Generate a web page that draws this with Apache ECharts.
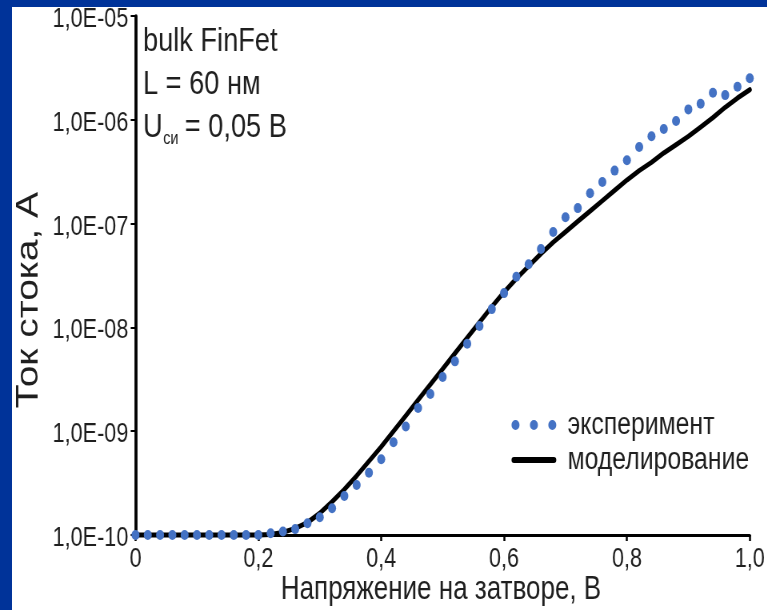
<!DOCTYPE html>
<html>
<head>
<meta charset="utf-8">
<script src="https://cdn.jsdelivr.net/npm/echarts@6/dist/echarts.min.js"></script>
<style>
  html, body { margin: 0; padding: 0; background: #ffffff; overflow: hidden; }
  /* the figure is laid out wide and then condensed horizontally */
  #chart { width: 959px; height: 610px; transform: scaleX(0.8); transform-origin: 0 0; }
</style>
</head>
<body>
<div id="chart"></div>
<script>
// Gate voltage, V (step 0.02 V)
const gateVoltage = [
  0.00, 0.02, 0.04, 0.06, 0.08, 0.10, 0.12, 0.14, 0.16, 0.18,
  0.20, 0.22, 0.24, 0.26, 0.28, 0.30, 0.32, 0.34, 0.36, 0.38,
  0.40, 0.42, 0.44, 0.46, 0.48, 0.50, 0.52, 0.54, 0.56, 0.58,
  0.60, 0.62, 0.64, 0.66, 0.68, 0.70, 0.72, 0.74, 0.76, 0.78,
  0.80, 0.82, 0.84, 0.86, 0.88, 0.90, 0.92, 0.94, 0.96, 0.98,
  1.00
];

// Measured drain current, A
const experimentCurrent = [
  1.0e-10, 1.0e-10, 1.0e-10, 1.0e-10, 1.0e-10, 1.0e-10, 1.0e-10, 1.0e-10, 1.0e-10, 1.0e-10,
  1.0e-10, 1.04e-10, 1.08e-10, 1.14e-10, 1.30e-10, 1.48e-10, 1.81e-10, 2.38e-10, 3.03e-10, 3.98e-10,
  5.36e-10, 7.82e-10, 1.11e-9, 1.67e-9, 2.28e-9, 3.33e-9, 4.71e-9, 6.97e-9, 1.03e-8, 1.50e-8,
  2.14e-8, 3.08e-8, 4.06e-8, 5.69e-8, 8.30e-8, 1.15e-7, 1.41e-7, 1.96e-7, 2.52e-7, 3.24e-7,
  4.07e-7, 5.47e-7, 6.93e-7, 8.15e-7, 9.72e-7, 1.26e-6, 1.43e-6, 1.82e-6, 1.73e-6, 2.08e-6,
  2.51e-6
];

// Simulated drain current, A
const modelCurrent = [
  1.0e-10, 1.0e-10, 1.0e-10, 1.0e-10, 1.0e-10, 1.0e-10, 1.0e-10, 1.0e-10, 1.0e-10, 1.0e-10,
  1.0e-10, 1.01e-10, 1.06e-10, 1.16e-10, 1.32e-10, 1.62e-10, 2.09e-10, 2.75e-10, 3.72e-10, 5.13e-10,
  7.08e-10, 1.00e-9, 1.41e-9, 2.00e-9, 2.82e-9, 3.98e-9, 5.62e-9, 7.94e-9, 1.12e-8, 1.58e-8,
  2.19e-8, 2.95e-8, 3.89e-8, 5.13e-8, 6.61e-8, 8.32e-8, 1.05e-7, 1.32e-7, 1.66e-7, 2.09e-7,
  2.63e-7, 3.24e-7, 3.89e-7, 4.79e-7, 5.75e-7, 6.92e-7, 8.51e-7, 1.05e-6, 1.32e-6, 1.62e-6,
  1.95e-6
];

const xTickLabels = ['0', '0,2', '0,4', '0,6', '0,8', '1,0'];
const yTickLabels = ['1,0E-10', '1,0E-09', '1,0E-08', '1,0E-07', '1,0E-06', '1,0E-05'];

const seriesNames = ['эксперимент', 'моделирование'];

const FONT = "'Liberation Sans', Arial, sans-serif";
const TEXT = '#1f1f1f';
const BLUE_DOT = '#4472C4';
const FRAME = '#003399';

const chart = echarts.init(document.getElementById('chart'), null, { renderer: 'canvas' });

const pairs = (ys) => gateVoltage.map((v, i) => [v, ys[i]]);

// legend icons: three dots and a thick bar
const dotsIcon = 'path://M0,5a5,5 0 1,0 10,0a5,5 0 1,0 -10,0z' +
  'M23,5a5,5 0 1,0 10,0a5,5 0 1,0 -10,0z' +
  'M46,5a5,5 0 1,0 10,0a5,5 0 1,0 -10,0z';
const barIcon = 'path://M3,2h50a3,3 0 0,1 0,6h-50a3,3 0 0,1 0,-6z';

chart.setOption({
  backgroundColor: '#ffffff',
  animation: false,
  textStyle: { fontFamily: FONT },
  grid: { left: 169.4, top: 16, width: 768.8, height: 519 },
  graphic: [
    { type: 'rect', shape: { x: 0, y: 0, width: 959, height: 7 }, style: { fill: FRAME } },
    { type: 'rect', shape: { x: 0, y: 0, width: 15, height: 610 }, style: { fill: FRAME } },
    { type: 'text', x: 178.75, y: 42, style: { text: 'bulk FinFet', fontSize: 34, fontFamily: FONT, fill: TEXT, verticalAlign: 'middle' } },
    { type: 'text', x: 178.75, y: 85, style: { text: 'L = 60 нм', fontSize: 34, fontFamily: FONT, fill: TEXT, verticalAlign: 'middle' } },
    { type: 'text', x: 178.75, y: 128, style: { text: 'U', fontSize: 34, fontFamily: FONT, fill: TEXT, verticalAlign: 'middle' } },
    { type: 'text', x: 204, y: 139, style: { text: 'си', fontSize: 18, fontFamily: FONT, fill: TEXT, verticalAlign: 'middle' } },
    { type: 'text', x: 231, y: 128, style: { text: '= 0,05 В', fontSize: 34, fontFamily: FONT, fill: TEXT, verticalAlign: 'middle' } },
    { type: 'text', x: 551.25, y: 590, style: { text: 'Напряжение на затворе, В', fontSize: 32.5, fontFamily: FONT, fill: TEXT, align: 'center', verticalAlign: 'middle' } },
    { type: 'text', x: 36, y: 300, rotation: Math.PI / 2, style: { text: 'Ток стока, А', fontSize: 39, fontFamily: FONT, fill: TEXT, align: 'center', verticalAlign: 'middle' } }
  ],
  legend: {
    orient: 'vertical',
    left: 639.4,
    top: 409.5,
    padding: 0,
    itemWidth: 56,
    itemHeight: 10,
    itemGap: 4,
    textStyle: { fontSize: 31, color: TEXT, fontFamily: FONT, lineHeight: 31, padding: [0, 0, 0, 9] },
    data: [
      { name: seriesNames[0], icon: dotsIcon },
      { name: seriesNames[1], icon: barIcon }
    ]
  },
  xAxis: {
    type: 'value',
    min: 0,
    max: 1,
    interval: 0.2,
    splitLine: { show: false },
    axisLine: { show: true, lineStyle: { color: '#000', width: 3 } },
    axisTick: { show: true, length: 6, inside: false, lineStyle: { color: '#000', width: 2.5 } },
    axisLabel: {
      margin: 11,
      fontSize: 27,
      color: TEXT,
      fontFamily: FONT,
      formatter: (v) => xTickLabels[Math.round(v / 0.2)]
    }
  },
  yAxis: {
    type: 'log',
    logBase: 10,
    min: 1e-10,
    max: 1e-5,
    interval: 1,
    splitLine: { show: false },
    axisLine: { show: true, lineStyle: { color: '#000', width: 3.75 } },
    axisTick: { show: true, length: 6, inside: false, lineStyle: { color: '#000', width: 2 } },
    axisLabel: {
      margin: 9,
      fontSize: 27,
      color: TEXT,
      fontFamily: FONT,
      formatter: (v) => '{v|' + yTickLabels[Math.round(Math.log10(v)) + 10] + '}',
      rich: {
        v: { fontSize: 27, color: TEXT, fontFamily: FONT, padding: [7, 0, 0, 0] }
      }
    }
  },
  series: [
    {
      name: seriesNames[1],
      type: 'line',
      data: pairs(modelCurrent),
      symbol: 'none',
      smooth: false,
      clip: false,
      z: 2,
      itemStyle: { color: '#000' },
      lineStyle: { color: '#000', width: 5, cap: 'round', join: 'round' }
    },
    {
      name: seriesNames[0],
      type: 'scatter',
      data: pairs(experimentCurrent),
      symbol: 'circle',
      symbolSize: 10,
      clip: false,
      z: 3,
      itemStyle: { color: BLUE_DOT, opacity: 1 }
    }
  ]
});
</script>
</body>
</html>
